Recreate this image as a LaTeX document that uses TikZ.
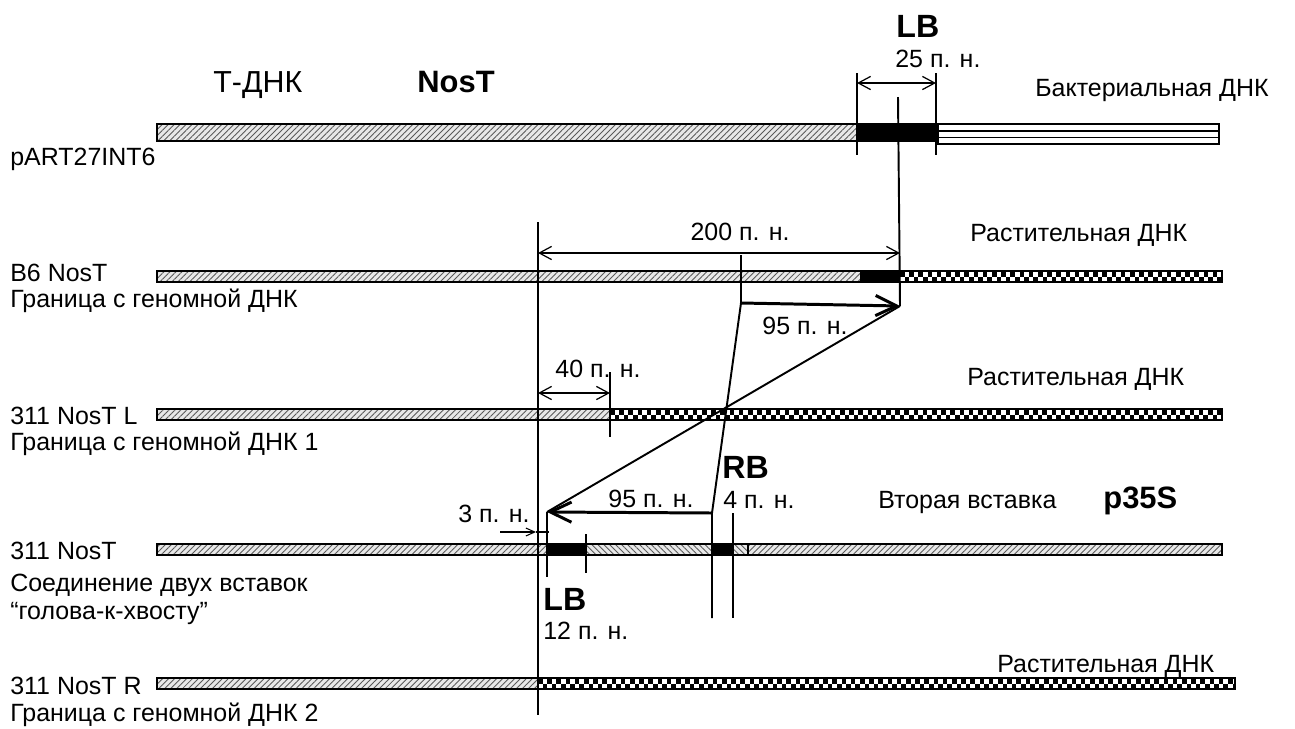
\documentclass[tikz,border=0pt]{standalone}
\usepackage{fontspec}
\setmainfont{Liberation Sans}
\usetikzlibrary{arrows.meta,patterns.meta}

\newcommand\hatchbar[5]{\fill[preaction={fill=gray!18},pattern={Lines[angle=#5,distance=2.4pt,line width=0.5pt]},pattern color=gray!70!black] (#1,#2) rectangle (#3,#4);}
\newcommand\blackbar[4]{\fill[black] (#1,#2) rectangle (#3,#4);}
\newcommand\checkbar[4]{%
  \begin{scope}
    \clip (#1,#2) rectangle (#3,#4);
    \fill[white] (#1,#2) rectangle (#3,#4);
    \pgfmathtruncatemacro\nck{(#3-#1)/4.6}
    \foreach \k in {0,...,\nck}{
      \pgfmathsetmacro\xa{#1+\k*4.6}
      \pgfmathsetmacro\yb{mod(\k,2)==0 ? #2 : (#2+#4)/2}
      \fill[black] (\xa,\yb) rectangle ++(4.6,{(#4-#2)/2});
    }
  \end{scope}}

\tikzset{
  txt/.style={font=\fontsize{14.2}{17}\selectfont, inner sep=0pt},
  bigb/.style={font=\fontsize{18.3}{21}\selectfont\bfseries, inner sep=0pt},
  midtxt/.style={font=\fontsize{17.3}{20}\selectfont, inner sep=0pt},
  midb/.style={font=\fontsize{17.6}{20}\selectfont\bfseries, inner sep=0pt},
  barline/.style={line width=0.8pt, draw=black},
  mainline/.style={line width=1.1pt},
  dimarrow/.style={line width=0.7pt, {Straight Barb[length=7pt,width=7.5pt]}-{Straight Barb[length=7pt,width=7.5pt]}},
  thickarrow/.style={line width=1.7pt, -{Straight Barb[length=12pt,width=11.5pt]}},
  smallarrow/.style={line width=0.6pt, -{Straight Barb[length=5pt,width=4.5pt]}},
}

\begin{document}
\begin{tikzpicture}[x=0.02cm,y=-0.02cm]
\useasboundingbox (0,0) rectangle (1295,728);

% ---------- Row 1: pART27INT6 ----------
\hatchbar{157}{124}{857}{141}{45}
\blackbar{857}{124}{936}{141}
\draw[barline] (157,124) rectangle (936,141);
\draw[line width=0.6pt] (938,124) rectangle (1219,144);
\draw[line width=0.6pt] (938,131) -- (1219,131);
\draw[line width=0.6pt] (938,137.5) -- (1219,137.5);

\coordinate (t1a) at (857,73);  \coordinate (t1b) at (857,155);
\coordinate (t2a) at (936,73);  \coordinate (t2b) at (936,155);
\coordinate (d25a) at (857,83); \coordinate (d25b) at (936,83);
\draw[mainline] (t1a) -- (t1b);
\draw[mainline] (t2a) -- (t2b);
\draw[dimarrow] (d25a) -- (d25b);

\node[bigb, anchor=base west] (lbtitle) at (896,37) {LB};
\node[txt, anchor=base west] (bp25) at (895,67) {25 п. н.};
\node[midtxt, anchor=base west] (tdna) at (213,92) {Т-ДНК};
\node[midb, anchor=base west] (nost) at (417,92) {NosT};
\node[txt, anchor=base west] (bact) at (1035,96) {Бактериальная ДНК};
\node[txt, anchor=base west] (lab1) at (10,165) {pART27INT6};

% ---------- Row 2: B6 NosT ----------
\hatchbar{157}{271}{860}{282}{45}
\blackbar{860}{271}{900}{282}
\checkbar{900}{271}{1222}{282}
\draw[barline] (157,271) rectangle (1222,282);
\node[txt, anchor=base west] (lab2a) at (10,281) {B6 NosT};
\node[txt, anchor=base west] (lab2b) at (10,307) {Граница с геномной ДНК};
\node[txt, anchor=base west] (plant2) at (970,241) {Растительная ДНК};

% ---------- Row 3: 311 NosT L ----------
\hatchbar{157}{409}{610}{420}{45}
\checkbar{610}{409}{1222}{420}
\draw[barline] (157,409) rectangle (1222,420);
\node[txt, anchor=base west] (lab3a) at (10,424) {311 NosT L};
\node[txt, anchor=base west] (lab3b) at (10,450) {Граница с геномной ДНК 1};
\node[txt, anchor=base west] (plant3) at (967,385) {Растительная ДНК};

% ---------- Row 4: 311 NosT ----------
\hatchbar{157}{544}{547}{555}{45}
\blackbar{547}{544}{586}{555}
\hatchbar{586}{544}{712}{555}{-45}
\blackbar{712}{544}{733}{555}
\hatchbar{733}{544}{748}{555}{-45}
\hatchbar{748}{544}{1222}{555}{45}
\draw[barline] (157,544) rectangle (1222,555);
\coordinate (sepA) at (748,544); \coordinate (sepB) at (748,555);
\draw[line width=0.6pt] (sepA) -- (sepB);
\node[txt, anchor=base west] (lab4a) at (10,559) {311 NosT};
\node[txt, anchor=base west] (lab4b) at (10,591) {Соединение двух вставок};
\node[txt, anchor=base west] (lab4c) at (10,619) {“голова-к-хвосту”};
\node[txt, anchor=base west] (second) at (878,508) {Вторая вставка};
\node[midb, anchor=base west] (p35s) at (1103,508) {p35S};

% ---------- Row 5: 311 NosT R ----------
\hatchbar{157}{678}{538}{689}{45}
\checkbar{538}{678}{1235}{689}
\draw[barline] (157,678) rectangle (1235,689);
\node[txt, anchor=base west] (lab5a) at (10,694) {311 NosT R};
\node[txt, anchor=base west] (lab5b) at (10,721) {Граница с геномной ДНК 2};
\node[txt, anchor=base west] (plant5) at (997,672) {Растительная ДНК};

% ---------- Connecting lines ----------
\coordinate (lbtop) at (898,97);
\coordinate (lbB6) at (900,306);
\coordinate (v538top) at (538,222);
\coordinate (v538bot) at (538,715);
\coordinate (d200a) at (538,253);
\coordinate (d200b) at (900,253);
\coordinate (v741top) at (741,255);
\coordinate (rbB6) at (741,303);
\coordinate (rb4) at (712,513);
\coordinate (rb4bot) at (712,618);
\coordinate (lb4) at (547,512);
\coordinate (lb4bot) at (547,577);
\coordinate (tk586a) at (586,534);
\coordinate (tk586b) at (586,573);
\coordinate (rb4r) at (733,513);
\coordinate (rb4rbot) at (733,618);
\coordinate (v610top) at (610,372);
\coordinate (v610bot) at (610,437);
\coordinate (d40a) at (538,393);
\coordinate (d40b) at (610,393);
\coordinate (t3a) at (500,532);
\coordinate (t3b) at (536,532);
\coordinate (t3c) at (549,532);

\draw[mainline] (lbtop) -- (lbB6);
\draw[mainline] (v538top) -- (v538bot);
\draw[dimarrow] (d200a) -- (d200b);
\draw[mainline] (v741top) -- (rbB6);
\draw[thickarrow] (rbB6) -- (lbB6);
\draw[mainline] (lbB6) -- (lb4);
\draw[mainline] (rbB6) -- (rb4) -- (rb4bot);
\draw[thickarrow] (rb4) -- (lb4);
\draw[mainline] (lb4) -- (lb4bot);
\draw[mainline] (tk586a) -- (tk586b);
\draw[line width=0.8pt] (rb4r) -- (rb4rbot);
\draw[mainline] (v610top) -- (v610bot);
\draw[dimarrow] (d40a) -- (d40b);
\draw[smallarrow] (t3a) -- (t3b);
\draw[line width=0.6pt] (t3b) -- (t3c);

% ---------- Labels ----------
\node[txt, anchor=base] (bp200) at (740,240) {200 п. н.};
\node[txt, anchor=base] (bp95a) at (805,334) {95 п. н.};
\node[txt, anchor=base] (bp40) at (598,377) {40 п. н.};
\node[txt, anchor=base] (bp3) at (494,522) {3 п. н.};
\node[txt, anchor=base] (bp95b) at (651,507) {95 п. н.};
\node[bigb, anchor=base west] (rbtitle) at (722,478) {RB};
\node[txt, anchor=base west] (bp4) at (723,508) {4 п. н.};
\node[bigb, anchor=base west] (lbtitle2) at (543,610) {LB};
\node[txt, anchor=base west] (bp12) at (543,639) {12 п. н.};
\end{tikzpicture}
\end{document}
